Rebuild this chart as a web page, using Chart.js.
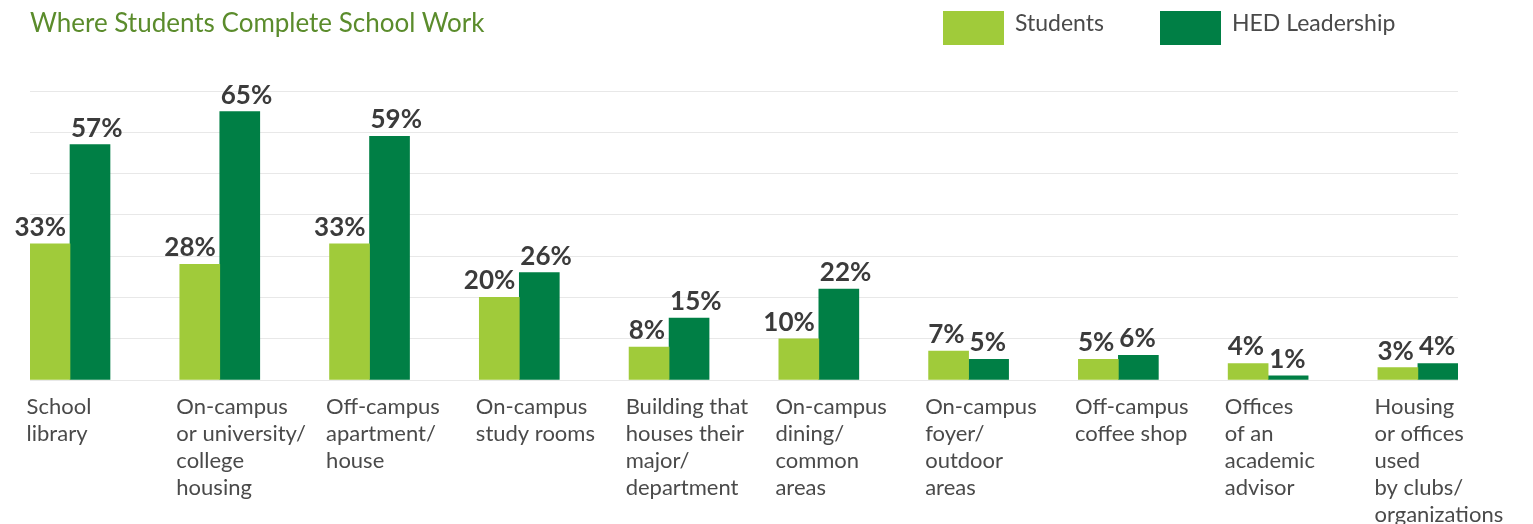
<!DOCTYPE html>
<html>
<head>
<meta charset="utf-8">
<script src="https://cdn.jsdelivr.net/npm/chart.js@4/dist/chart.umd.min.js"></script>
<style>
  body { margin: 0; background: #fff; font-family: Lato, sans-serif; }
  #wrap { position: relative; width: 1533px; height: 524px; }
  #title { position: absolute; left: 30px; top: 9px; font-size: 26px; line-height: 26px; color: #5b8c2c; }
  .key { position: absolute; top: 11px; height: 34px; }
  .key i { position: absolute; left: 0; top: 0; width: 61px; height: 34px; }
  .key span { position: absolute; left: 72px; top: 0; font-size: 23px; line-height: 23px; color: #4a4a4a; white-space: nowrap; }
</style>
</head>
<body>
<div id="wrap">
  <canvas id="chart"></canvas>
  <div id="title">Where Students Complete School Work</div>
  <div class="key" style="left:943px"><i style="background:#a0cb3a"></i><span>Students</span></div>
  <div class="key" style="left:1160px"><i style="background:#007f45"></i><span>HED Leadership</span></div>
</div>
<script>
const categories = [
  ['School', 'library'],
  ['On-campus', 'or university/', 'college', 'housing'],
  ['Off-campus', 'apartment/', 'house'],
  ['On-campus', 'study rooms'],
  ['Building that', 'houses their', 'major/', 'department'],
  ['On-campus', 'dining/', 'common', 'areas'],
  ['On-campus', 'foyer/', 'outdoor', 'areas'],
  ['Off-campus', 'coffee shop'],
  ['Offices', 'of an', 'academic', 'advisor'],
  ['Housing', 'or offices', 'used', 'by clubs/', 'organizations']
];
const students = [33, 28, 33, 20, 8, 10, 7, 5, 4, 3];
const hedLeadership = [57, 65, 59, 26, 15, 22, 5, 6, 1, 4];

Chart.defaults.font.family = 'Lato';

// percentage labels over the bars: light ones hug the bar's right edge, dark ones the left edge
const valueLabels = {
  id: 'valueLabels',
  afterDatasetsDraw(chart) {
    const ctx = chart.ctx;
    ctx.save();
    ctx.font = 'bold 26px Lato';
    ctx.fillStyle = '#3b3b3b';
    ctx.textBaseline = 'alphabetic';
    chart.data.datasets.forEach((ds, di) => {
      chart.getDatasetMeta(di).data.forEach((bar, i) => {
        const txt = ds.data[i].y + '%';
        if (di === 0) {
          ctx.textAlign = 'right';
          ctx.fillText(txt, bar.x + bar.width / 2 - 4, bar.y - 8);
        } else {
          ctx.textAlign = 'left';
          ctx.fillText(txt, bar.x - bar.width / 2 + 1, bar.y - 8);
        }
      });
    });
    ctx.restore();
  }
};

new Chart(document.getElementById('chart'), {
  type: 'bar',
  data: {
    datasets: [{
      label: 'Students',
      data: students.map((v, i) => ({ x: i, y: v })),
      backgroundColor: '#a0cb3a',
      barThickness: 40
    }, {
      label: 'HED Leadership',
      data: hedLeadership.map((v, i) => ({ x: i, y: v })),
      backgroundColor: '#007f45',
      barThickness: 40
    }]
  },
  options: {
    responsive: true,
    maintainAspectRatio: false,
    animation: false,
    layout: { padding: { left: 30, right: 75, top: 91, bottom: 0 } },
    plugins: {
      legend: { display: false },
      tooltip: { enabled: false }
    },
    scales: {
      x: {
        type: 'linear',
        offset: false,
        min: -0.2671,
        max: 9.2678,
        grid: { display: false, drawTicks: false },
        border: { display: false },
        afterBuildTicks: (scale) => {
          scale.ticks = categories.map((c, i) => ({ value: i - 0.29 }));
        },
        afterFit: (scale) => { scale.height = 144; },
        ticks: {
          autoSkip: false,
          maxRotation: 0,
          minRotation: 0,
          align: 'start',
          padding: 13,
          color: '#4a4a4a',
          font: { size: 22, lineHeight: 27 / 22 },
          callback: (value, index) => categories[index]
        }
      },
      y: {
        min: 0,
        max: 70,
        ticks: { display: false, stepSize: 10 },
        grid: { color: '#e8e8e8', lineWidth: 1, drawTicks: false },
        border: { display: false }
      }
    }
  },
  plugins: [valueLabels]
});
</script>
</body>
</html>
